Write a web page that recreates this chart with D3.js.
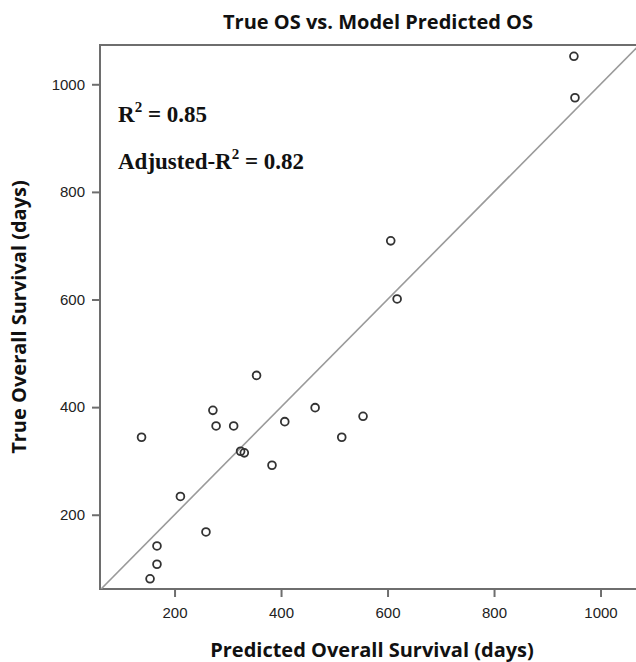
<!DOCTYPE html>
<html>
<head>
<meta charset="utf-8">
<script src="https://cdn.jsdelivr.net/npm/d3@7"></script>
<style>
  html, body { margin: 0; padding: 0; background: #fff; }
  svg { display: block; }
</style>
</head>
<body>
<svg id="chart" width="636" height="662"></svg>
<script>
// Data
const predictedOS = [138, 354, 272, 278, 311, 464, 407, 324, 331, 383, 211, 259, 167, 167, 154, 618, 606, 554, 514, 950, 952];
const trueOS      = [344, 459, 394, 365, 365, 399, 373, 318, 315, 292, 234, 168, 142, 108, 81, 601, 709, 383, 344, 1052, 975];
const xTicks = [200, 400, 600, 800, 1000];
const yTicks = [200, 400, 600, 800, 1000];
const titleText = "True OS vs. Model Predicted OS";
const xLabel = "Predicted Overall Survival (days)";
const yLabel = "True Overall Survival (days)";
const r2Text = "0.85";
const adjR2Text = "0.82";

const svg = d3.select("#chart");
const pL = 100, pR = 639.4, pT = 45, pB = 589;

const x = d3.scaleLinear().domain([60, 1073]).range([pL, pR]);
const y = d3.scaleLinear().domain([62, 1073]).range([pB, pT]);

svg.append("defs").append("clipPath").attr("id", "clip")
  .append("rect").attr("x", pL).attr("y", pT).attr("width", pR - pL).attr("height", pB - pT);

// frame
svg.append("rect")
  .attr("x", pL).attr("y", pT)
  .attr("width", pR - pL).attr("height", pB - pT)
  .attr("fill", "none").attr("stroke", "#6e6e6e").attr("stroke-width", 2);

// axes
const tickFont = "'Liberation Sans', Arial, sans-serif";
const xAxis = svg.append("g").attr("transform", `translate(0,${pB})`)
  .call(d3.axisBottom(x).tickValues(xTicks).tickSize(8).tickPadding(10).tickFormat(d3.format("d")));
const yAxis = svg.append("g").attr("transform", `translate(${pL},0)`)
  .call(d3.axisLeft(y).tickValues(yTicks).tickSize(8).tickPadding(7).tickFormat(d3.format("d")));
[xAxis, yAxis].forEach(g => {
  g.select(".domain").remove();
  g.selectAll(".tick line").attr("stroke", "#6e6e6e").attr("stroke-width", 2);
  g.selectAll(".tick text").attr("fill", "#222").style("font-family", tickFont).style("font-size", "15px");
});

// identity / fit line
const lo = 62, hi = 1073;
svg.append("line")
  .attr("clip-path", "url(#clip)")
  .attr("x1", x(lo)).attr("y1", y(lo)).attr("x2", x(hi)).attr("y2", y(hi))
  .attr("stroke", "#9a9a9a").attr("stroke-width", 1.6);

// points
svg.append("g").attr("clip-path", "url(#clip)")
  .selectAll("circle").data(predictedOS.map((p, i) => [p, trueOS[i]]))
  .join("circle")
  .attr("cx", d => x(d[0])).attr("cy", d => y(d[1])).attr("r", 3.9)
  .attr("fill", "none").attr("stroke", "#333").attr("stroke-width", 1.8);

// title and axis labels
const labFont = "'Open Sans', 'Noto Sans', sans-serif";
svg.append("text").attr("x", 378).attr("y", 29).attr("text-anchor", "middle")
  .style("font-family", labFont).style("font-weight", "bold").style("font-size", "20px")
  .attr("fill", "#111").text(titleText);
svg.append("text").attr("x", 372).attr("y", 657).attr("text-anchor", "middle")
  .style("font-family", labFont).style("font-weight", "bold").style("font-size", "20px")
  .attr("fill", "#111").text(xLabel);
svg.append("text").attr("transform", "translate(26,317) rotate(-90)").attr("text-anchor", "middle")
  .style("font-family", labFont).style("font-weight", "bold").style("font-size", "20px")
  .attr("fill", "#111").text(yLabel);

// R^2 annotations
const serif = "'Liberation Serif', 'Times New Roman', serif";
function r2(label, val, yy) {
  const t = svg.append("text").attr("x", 118).attr("y", yy)
    .style("font-family", serif).style("font-weight", "bold").style("font-size", "23px").attr("fill", "#111");
  t.append("tspan").text(label + "R");
  t.append("tspan").attr("dy", -10).style("font-size", "15px").text("2");
  t.append("tspan").attr("dy", 10).text(" = " + val);
}
r2("", r2Text, 122);
r2("Adjusted-", adjR2Text, 169);
</script>
</body>
</html>
